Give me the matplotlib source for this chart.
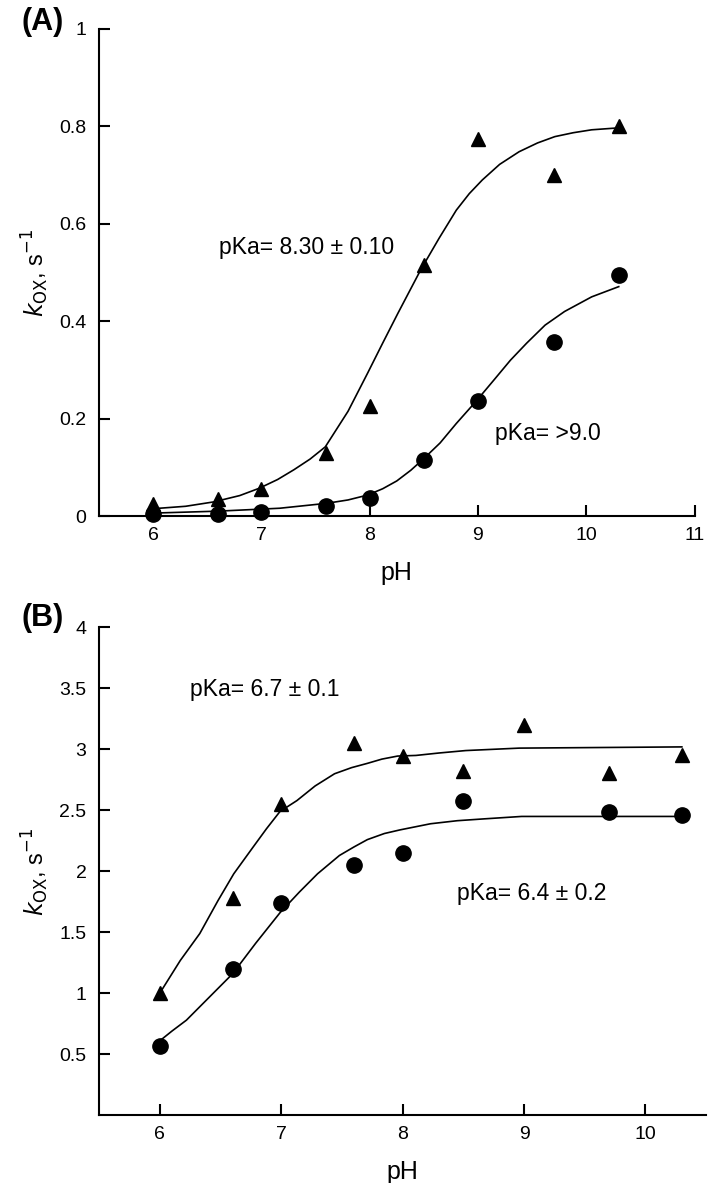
import matplotlib.pyplot as plt

plt.rcParams['font.family'] = ['Liberation Sans', 'DejaVu Sans']

# ---- Panel A data ----
ph_a = [6.0, 6.6, 7.0, 7.6, 8.0, 8.5, 9.0, 9.7, 10.3]
tri_a = [0.025, 0.035, 0.055, 0.13, 0.225, 0.515, 0.775, 0.70, 0.80]
circ_a = [0.005, 0.005, 0.008, 0.02, 0.037, 0.115, 0.237, 0.358, 0.495]

# fitted curves
fit_tri_a_x = [6.0, 6.3, 6.56, 6.8, 6.98, 7.15, 7.3, 7.45, 7.59, 7.8, 7.98, 8.12, 8.26, 8.47,
               8.64, 8.8, 8.92, 9.04, 9.2, 9.38, 9.55, 9.71, 9.88, 10.05, 10.3]
fit_tri_a_y = [0.015, 0.02, 0.029, 0.042, 0.057, 0.075, 0.095, 0.117, 0.142, 0.215, 0.293, 0.355,
               0.416, 0.505, 0.57, 0.628, 0.662, 0.69, 0.722, 0.748, 0.766, 0.779, 0.787, 0.793, 0.797]
fit_circ_a_x = [6.0, 6.6, 7.17, 7.6, 7.8, 7.98, 8.12, 8.25, 8.38, 8.5, 8.65, 8.8, 8.98, 9.15,
                9.3, 9.45, 9.62, 9.8, 10.05, 10.3]
fit_circ_a_y = [0.006, 0.01, 0.016, 0.026, 0.033, 0.043, 0.056, 0.072, 0.094, 0.118, 0.15, 0.19,
                0.235, 0.28, 0.32, 0.355, 0.392, 0.42, 0.45, 0.471]

# ---- Panel B data ----
ph_b = [6.0, 6.6, 7.0, 7.6, 8.0, 8.5, 9.0, 9.7, 10.3]
tri_b = [1.0, 1.78, 2.55, 3.05, 2.945, 2.825, 3.2, 2.81, 2.95]
ph_b_circ = [6.0, 6.6, 7.0, 7.6, 8.0, 8.5, 9.7, 10.3]
circ_b = [0.57, 1.20, 1.74, 2.05, 2.15, 2.58, 2.49, 2.46]

fit_tri_b_x = [6.0, 6.17, 6.33, 6.48, 6.61, 6.77, 6.88, 6.99, 7.13, 7.28, 7.44, 7.58, 7.71,
               7.83, 7.96, 8.11, 8.3, 8.52, 8.96, 10.3]
fit_tri_b_y = [1.0, 1.27, 1.49, 1.76, 1.98, 2.20, 2.35, 2.49, 2.58, 2.70, 2.80, 2.85, 2.885,
               2.92, 2.945, 2.95, 2.97, 2.99, 3.01, 3.02]
fit_circ_b_x = [6.0, 6.1, 6.22, 6.41, 6.60, 6.79, 6.99, 7.15, 7.3, 7.48, 7.6, 7.71, 7.85,
                7.98, 8.23, 8.45, 8.67, 8.98, 10.3]
fit_circ_b_y = [0.61, 0.69, 0.78, 0.97, 1.16, 1.41, 1.66, 1.83, 1.98, 2.13, 2.2, 2.26, 2.31,
                2.34, 2.39, 2.415, 2.43, 2.45, 2.45]

fig = plt.figure(figsize=(7.09, 11.83), dpi=100)
ax1 = fig.add_axes([0.1396, 0.5638, 0.840, 0.4117])
ax2 = fig.add_axes([0.1396, 0.0572, 0.8564, 0.4125])


def style(ax):
    for s in ['top', 'right']:
        ax.spines[s].set_visible(False)
    for s in ['left', 'bottom']:
        ax.spines[s].set_linewidth(1.5)
    ax.tick_params(direction='in', length=8, width=1.5, labelsize=14, pad=9)
    ax.tick_params(axis='x', pad=8)
    ax.set_xlabel('pH', fontsize=18, labelpad=12)
    ax.set_ylabel(r'$k_{\mathrm{OX}}$, s$^{-1}$', fontsize=17, labelpad=6)


# Panel A
ax1.plot(fit_tri_a_x, fit_tri_a_y, color='black', lw=1.2)
ax1.plot(fit_circ_a_x, fit_circ_a_y, color='black', lw=1.2)
ax1.plot(ph_a, tri_a, '^', color='black', ms=10.5, clip_on=False)
ax1.plot(ph_a, circ_a, 'o', color='black', ms=11, clip_on=False)
ax1.set_xlim(5.5, 11)
ax1.set_ylim(0, 1)
ax1.set_xticks([6, 7, 8, 9, 10, 11])
ax1.set_yticks([0, 0.2, 0.4, 0.6, 0.8, 1])
ax1.set_yticklabels(['0', '0.2', '0.4', '0.6', '0.8', '1'])
style(ax1)
ax1.text(6.61, 0.552, 'pKa= 8.30 ± 0.10', fontsize=16.5, va='center')
ax1.text(9.16, 0.17, 'pKa= >9.0', fontsize=16.5, va='center')
fig.text(0.031, 0.994, '(A)', fontsize=22, fontweight='bold', va='top')

# Panel B
ax2.plot(fit_tri_b_x, fit_tri_b_y, color='black', lw=1.2)
ax2.plot(fit_circ_b_x, fit_circ_b_y, color='black', lw=1.2)
ax2.plot(ph_b, tri_b, '^', color='black', ms=10.5, clip_on=False)
ax2.plot(ph_b_circ, circ_b, 'o', color='black', ms=11, clip_on=False)
ax2.set_xlim(5.5, 10.5)
ax2.set_ylim(0, 4)
ax2.set_xticks([6, 7, 8, 9, 10])
ax2.set_yticks([0.5, 1, 1.5, 2, 2.5, 3, 3.5, 4])
ax2.set_yticklabels(['0.5', '1', '1.5', '2', '2.5', '3', '3.5', '4'])
style(ax2)
ax2.text(6.25, 3.49, 'pKa= 6.7 ± 0.1', fontsize=16.5, va='center')
ax2.text(8.45, 1.82, 'pKa= 6.4 ± 0.2', fontsize=16.5, va='center')
fig.text(0.031, 0.49, '(B)', fontsize=22, fontweight='bold', va='top')

fig.savefig('out.png', dpi=100)
